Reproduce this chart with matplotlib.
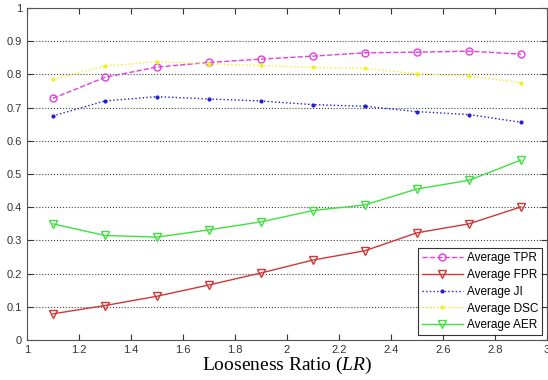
import numpy as np
import matplotlib.pyplot as plt
from matplotlib.ticker import FuncFormatter

# looseness ratio values
lr = [1.1, 1.3, 1.5, 1.7, 1.9, 2.1, 2.3, 2.5, 2.7, 2.9]

tpr = [0.728, 0.791, 0.822, 0.836, 0.846, 0.855, 0.865, 0.867, 0.870, 0.861]
fpr = [0.079, 0.104, 0.132, 0.166, 0.202, 0.241, 0.269, 0.323, 0.350, 0.401]
ji = [0.675, 0.720, 0.733, 0.726, 0.720, 0.709, 0.704, 0.688, 0.679, 0.656]
dsc = [0.785, 0.825, 0.838, 0.832, 0.827, 0.821, 0.818, 0.802, 0.795, 0.775]
aer = [0.350, 0.315, 0.310, 0.332, 0.356, 0.390, 0.407, 0.455, 0.481, 0.542]

plt.rcParams['font.family'] = ['Liberation Sans', 'DejaVu Sans']
plt.rcParams['mathtext.fontset'] = 'custom'
plt.rcParams['mathtext.it'] = 'Liberation Serif:italic'
plt.rcParams['mathtext.rm'] = 'Liberation Serif'

fig = plt.figure(figsize=(5.48, 3.8), dpi=100)
ax = fig.add_axes([0.049, 0.105, 0.949, 0.874])

ax.plot(lr, tpr, '--', color='#e040e0', marker='o', mfc='none', ms=5, lw=1, label='Average TPR')
ax.plot(lr, fpr, '-', color='#d03838', marker='v', mfc='none', ms=6, lw=1, label='Average FPR')
ax.plot(lr, ji, ':', color='#2020d0', marker='.', ms=4, lw=1, label='Average JI')
ax.plot(lr, dsc, ':', color='#f0f020', marker='.', ms=4, lw=1, label='Average DSC')
ax.plot(lr, aer, '-', color='#40e040', marker='v', mfc='none', ms=6, lw=1, label='Average AER')

ax.set_xlim(1, 3)
ax.set_ylim(0, 1)
ax.set_xticks(np.arange(1, 3.01, 0.2))
ax.set_yticks(np.arange(0, 1.01, 0.1))
ax.xaxis.set_major_formatter(FuncFormatter(lambda v, p: f"{v:g}"))
ax.yaxis.set_major_formatter(FuncFormatter(lambda v, p: f"{v:g}"))
ax.tick_params(direction='in', top=True, right=True, labelsize=8, length=4, colors='#333333')
ax.yaxis.grid(True, linestyle=':', color='#444444', lw=0.8)
for s in ax.spines.values():
    s.set_color('#555555')

ax.set_xlabel(r'Looseness Ratio ($\mathit{LR}$)', family='Liberation Serif', fontsize=14, labelpad=0)

leg = ax.legend(loc='lower right', fontsize=8.5, fancybox=False, edgecolor='black',
                borderaxespad=0.4, handlelength=3.5, labelspacing=0.4, borderpad=0.35,
                handletextpad=0.3)
leg.get_frame().set_linewidth(0.8)

fig.savefig('out.png', dpi=100)
